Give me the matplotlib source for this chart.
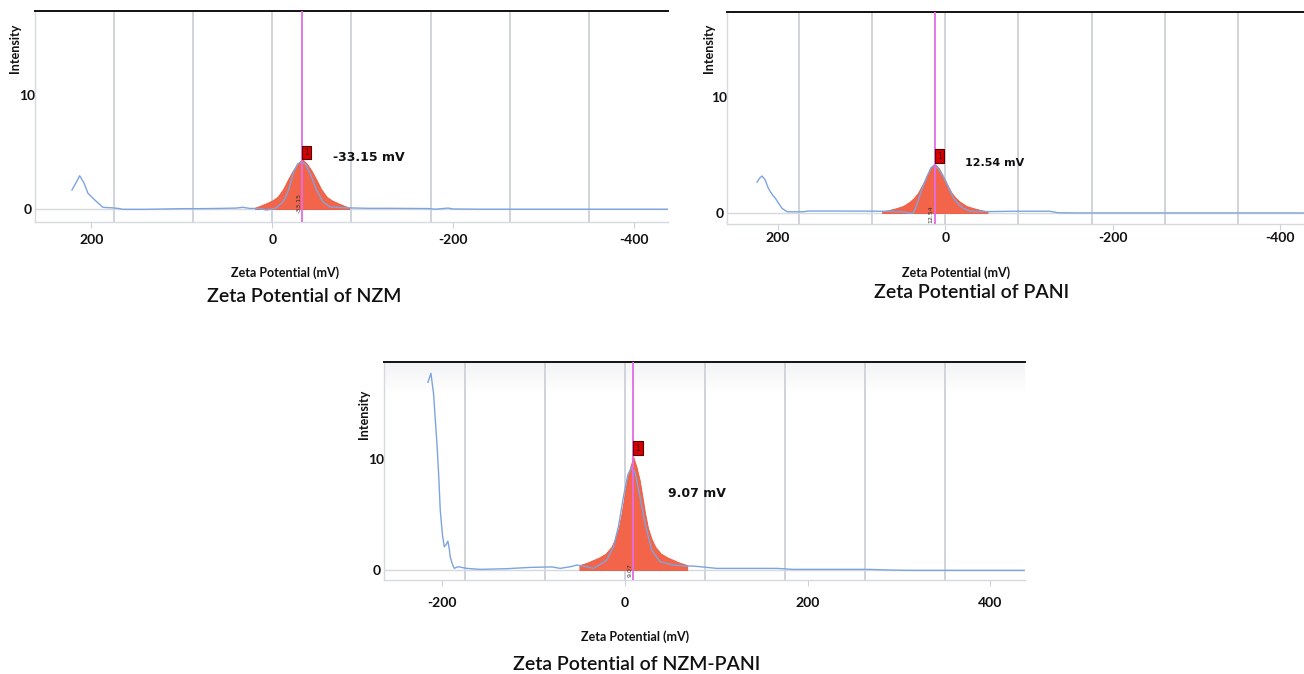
import numpy as np
import matplotlib
matplotlib.use("Agg")
import matplotlib.pyplot as plt
from matplotlib.colors import LinearSegmentedColormap

# ---------------- data (zeta potential in mV, intensity in a.u.) ----------------
# NZM
nzm_x = [221.2, 216, 212.7, 208, 203.5, 198, 192, 187, 182, 177.7, 170, 164.9, 140, 120,
         100, 80, 60, 40, 32.6, 25, 15, 6.4, 0, -4.6, -12, -16, -19.3, -23, -28, -32.3, -37,
         -40, -43.3, -48.8, -56, -63.5, -78, -106, -130, -150, -172, -180, -190, -194, -200,
         -230, -300, -437]
nzm_y = [1.67, 2.4, 2.92, 2.3, 1.38, 0.94, 0.5, 0.15, 0.12, 0.11, 0.05, -0.03, -0.03, 0.0,
         0.03, 0.03, 0.05, 0.08, 0.15, 0.05, 0.05, -0.09, 0.0, 0.11, 0.64, 1.25, 1.96, 3.13,
         3.95, 4.15, 3.9, 3.4, 2.83, 1.67, 0.64, 0.2, 0.11, 0.06, 0.06, 0.05, 0.04, -0.02,
         0.05, 0.08, 0.0, -0.02, -0.02, -0.02]
nzm_peak_x = [19, 13, 6.8, 0, -6, -12, -17, -23, -28, -33.15, -38, -43, -49, -54, -60,
              -66, -73, -79, -85]
nzm_peak_y = [0.12, 0.3, 0.5, 0.75, 1.08, 1.75, 2.54, 3.42, 4.0, 4.36, 4.0, 3.42, 2.54,
              1.75, 1.08, 0.75, 0.5, 0.3, 0.12]
nzm_zeta = -33.15

# PANI
pani_x = [225.1, 222, 219.1, 215.2, 212, 209.2, 206, 203.2, 199, 195.2, 189.2, 180, 169.4,
          163.4, 140, 100, 70, 49.8, 42, 38, 34, 30, 26, 22, 17, 13, 8, 4, 0, -5, -10, -16,
          -21.9, -28, -33.8, -50, -80, -110, -125, -135, -160, -429]
pani_y = [2.65, 3.0, 3.19, 2.84, 2.2, 1.84, 1.5, 1.27, 0.8, 0.4, 0.11, 0.1, 0.11,
          0.17, 0.17, 0.16, 0.15, 0.09, -0.03, 0.0, 0.7, 1.6, 2.4, 3.13, 3.9, 4.15, 3.8,
          3.35, 2.84, 2.0, 1.27, 0.75, 0.4, 0.2, 0.12, 0.12, 0.15, 0.15, 0.15, 0.02, 0.0, 0.0]
pani_peak_x = [75.5, 67.5, 59.5, 50.5, 42.5, 37.5, 32.5, 26.5, 21.5, 17.5, 12.54, 7.5, 3.5,
               -1.5, -7.5, -12.5, -17.5, -25.5, -34.5, -42.5, -50.5]
pani_peak_y = [0.15, 0.25, 0.4, 0.6, 0.97, 1.3, 1.75, 2.56, 3.3, 3.85, 4.22, 3.85, 3.3,
               2.56, 1.75, 1.3, 0.97, 0.6, 0.4, 0.25, 0.15]
pani_zeta = 12.54

# NZM-PANI
comp_x = [-215.9, -212.6, -209.7, -208, -206, -204, -202.4, -200, -198, -196, -194, -192.5,
          -191.5, -189, -187, -184.5, -182.4, -178, -173.2, -158.6, -130, -104, -80, -71, -60,
          -52.8, -45, -34.7, -27.4, -20, -12.8, -7.3, -1.8, 3, 7.3, 11, 16.4, 21.9, 29.2,
          38.3, 52.8, 67.5, 74.7, 100.3, 130, 166, 183.8, 230, 268, 290, 308, 437]
comp_y = [16.96, 17.77, 15.92, 13.8, 11.41, 8.4, 5.41, 3.2, 2.1, 2.3, 2.61, 1.9,
          1.2, 0.5, 0.15, 0.25, 0.3, 0.22, 0.15, 0.06, 0.12, 0.24, 0.28, 0.15, 0.3,
          0.45, 0.35, 0.15, 0.5, 0.9, 2.1, 3.9, 6.6, 8.6, 9.3, 8.8, 6.6, 4.2, 1.8,
          0.75, 0.45, 0.36, 0.36, 0.15, 0.15, 0.15, 0.06, 0.06, 0.06, 0.0, -0.03, -0.03]
comp_peak_x = [-50, -42, -35, -28, -21, -15, -11, -7, -3.6, 2, 5.6, 9.07, 12.6, 16.1,
               21.8, 25.1, 29.1, 33.1, 39.1, 46.1, 53.1, 60.1, 68.1]
comp_peak_y = [0.45, 0.65, 0.9, 1.15, 1.5, 2.1, 2.8, 3.8, 5.2, 8.1, 9.3, 10.2, 9.3, 8.1,
               5.2, 3.8, 2.8, 2.1, 1.5, 1.15, 0.9, 0.65, 0.45]
comp_zeta = 9.07

grid_top = [175, 87.5, 0, -87.5, -175, -262.5, -350]
grid_bottom = [-175, -87.5, 0, 87.5, 175, 262.5, 350]
ticks_top = [200, 0, -200, -400]
ticks_bottom = [-200, 0, 200, 400]
tick_labels_top = ["200", "0", "-200", "-400"]
tick_labels_bottom = ["-200", "0", "200", "400"]

# ---------------- styling ----------------
W, H = 1304, 674
BLUE = "#7ea4e0"
RED = "#f3654b"
PINK = "#e36be3"
GRID = "#cdd1d8"
LIGHT = "#d6d9de"

fig = plt.figure(figsize=(W / 100, H / 100), dpi=100)


def px(x, y):
    """pixel position (from top-left) -> figure fraction"""
    return x / W, 1 - y / H


def panel(rect, xs, ys, pk_x, pk_y, zeta, zeta_label, grids, ticks, tlabels, xlim, ylim,
          value_text, value_pos, value_size, small_y, marker_dy, xpad, gradient=False):
    l, t, r, b = rect
    ax = fig.add_axes([l / W, 1 - b / H, (r - l) / W, (b - t) / H])
    ax.set_facecolor("white")

    if gradient:
        cmap = LinearSegmentedColormap.from_list("bg", ["white", "#f2f3f5"])
        ax.imshow(np.linspace(0, 1, 64)[:, None], cmap=cmap, aspect="auto",
                  extent=[0, 1, 0.86, 1], transform=ax.transAxes, origin="lower",
                  zorder=0)

    for g in grids:
        ax.axvline(g, color=GRID, lw=1.3, zorder=1)
    ax.axhline(0, color=LIGHT, lw=1.0, zorder=1)

    ax.fill_between(pk_x, 0, pk_y, color=RED, lw=0.6, edgecolor="#e85a40", zorder=2)
    ax.plot(xs, ys, color=BLUE, lw=1.0, zorder=3)
    ax.axvline(zeta, color=PINK, lw=1.3, zorder=4)

    top_i = int(np.argmax(pk_y))
    ax.annotate("1", xy=(pk_x[top_i], pk_y[top_i]), xytext=(4.5, marker_dy),
                textcoords="offset pixels", ha="center", va="center", fontsize=5.5,
                color="#300000", zorder=6,
                bbox=dict(boxstyle="square,pad=0.3", fc="#d60000", ec="#5a0000", lw=0.8))
    ax.annotate(zeta_label, xy=(zeta, small_y), xytext=(-3.5, 0),
                textcoords="offset pixels", rotation=90, ha="center", va="center",
                fontsize=4.5, color="#333333", zorder=5)
    ax.text(value_pos[0], value_pos[1], value_text, ha="left", va="center",
            fontsize=value_size, fontweight="bold", family="DejaVu Sans", color="#111111",
            zorder=6)

    ax.set_xlim(*xlim)
    ax.set_ylim(*ylim)

    ax.spines["right"].set_visible(False)
    ax.spines["top"].set_color("#111111")
    ax.spines["top"].set_linewidth(1.4)
    for s in ("left", "bottom"):
        ax.spines[s].set_color(LIGHT)
        ax.spines[s].set_linewidth(1.0)

    ax.set_xticks(ticks, labels=tlabels)
    ax.tick_params(axis="x", length=4, color=GRID, pad=xpad, labelsize=10)
    ax.set_yticks([0, 10], labels=["0", "10"])
    ax.tick_params(axis="y", length=0, pad=5.5, labelsize=10)
    for lab in ax.get_xticklabels() + ax.get_yticklabels():
        lab.set_fontfamily("Lato")
        lab.set_fontweight("bold")
        lab.set_color("#111111")
    for lab in ax.get_yticklabels():
        lab.set_horizontalalignment("center")
    return ax


# NZM (reversed axis)
panel((35, 11, 668, 222), nzm_x, nzm_y, nzm_peak_x, nzm_peak_y, nzm_zeta, "-33.15",
      grid_top, ticks_top, tick_labels_top, (262, -437), (-1.14, 17.37),
      "-33.15 mV", (-67, 4.56), 9, 0.5, 7, 5)
# PANI (reversed axis)
panel((727, 12, 1304, 224), pani_x, pani_y, pani_peak_x, pani_peak_y, pani_zeta, "12.54",
      grid_top, ticks_top, tick_labels_top, (261, -429), (-0.95, 17.33),
      "12.54 mV", (-23.3, 4.3), 8, -0.1, 8, 2)
# NZM-PANI
panel((384, 362, 1025, 580), comp_x, comp_y, comp_peak_x, comp_peak_y, comp_zeta, "9.07",
      grid_bottom, ticks_bottom, tick_labels_bottom, (-264, 438), (-0.9, 18.8),
      "9.07 mV", (47, 6.9), 9, 0.0, 9, 8.5, gradient=True)

# axis titles and captions
for (x, y) in [(15, 48), (709, 48), (364, 414)]:
    fig.text(*px(x, y), "Intensity", rotation=90, ha="center", va="center",
             fontsize=9, fontweight="bold", family="Lato", color="#111111")
for (x, y) in [(285, 273), (956, 273), (635, 637)]:
    fig.text(*px(x, y), "Zeta Potential (mV)", ha="center", va="center",
             fontsize=9, fontweight="bold", family="Lato", color="#111111")
for (x, y, s) in [(304, 297, "Zeta Potential of NZM"),
                  (972, 293, "Zeta Potential of PANI"),
                  (637, 665, "Zeta Potential of NZM-PANI")]:
    fig.text(*px(x, y), s, ha="center", va="center", fontsize=14, fontweight="semibold",
             family="Lato", color="#111111")

fig.savefig("out.png", dpi=100)
